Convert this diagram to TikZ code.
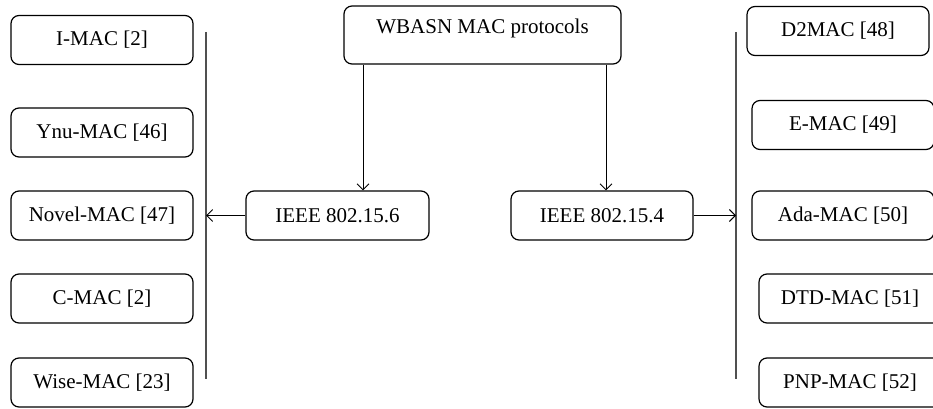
\documentclass[tikz,border=0pt]{standalone}
\usepackage{fontspec}
\setmainfont{Liberation Serif}
\usepackage{xcolor}
\usepackage{tikz}
\usetikzlibrary{arrows.meta, positioning}
\definecolor{linegray}{HTML}{505050}
\tikzset{
    protobox/.style={rectangle, rounded corners=8pt, draw, line width=1.2pt, minimum width=182pt, minimum height=49pt, inner sep=0pt, font=\fontsize{21}{25}\selectfont},
    rootbox/.style={protobox, minimum width=277pt, minimum height=58pt, text depth=16pt, text height=14pt},
    arrow/.style={-{Straight Barb[length=6pt, width=12pt]}, line width=0.9pt},
    rail/.style={draw=linegray, line width=1.9pt}
}

\begin{document}
\begin{tikzpicture}[x=1pt, y=-1pt]
            \useasboundingbox (0,0) rectangle (933,409);
            \clip (0,0) rectangle (933,409);
            % top and middle row
            \node (root) [rootbox] at (482.5,35) {WBASN MAC protocols};
            \node (sixstd) [protobox, minimum width=183pt] at (337.5,215.5) {IEEE 802.15.6};
            \node (fourstd) [protobox] at (602,215.5) {IEEE 802.15.4};
            % left column
            \node (imac) [protobox] at (102,40) {I-MAC [2]};
            \node (ynumac) [protobox] at (102,132.5) {Ynu-MAC [46]};
            \node (novelmac) [protobox] at (102,215.5) {Novel-MAC [47]};
            \node (cmac) [protobox] at (102,298.5) {C-MAC [2]};
            \node (wisemac) [protobox] at (102,382.5) {Wise-MAC [23]};
            % right column
            \node (dtwomac) [protobox] at (838,31) {D2MAC [48]};
            \node (emac) [protobox] at (843,125) {E-MAC [49]};
            \node (adamac) [protobox] at (843,215.5) {Ada-MAC [50]};
            \node (dtdmac) [protobox] at (850,298.5) {DTD-MAC [51]};
            \node (pnpmac) [protobox] at (850,382.5) {PNP-MAC [52]};

            \coordinate (lefttop) at (206,32);
            \coordinate (leftbot) at (206,379);
            \coordinate (righttop) at (736,32);
            \coordinate (rightbot) at (736,379);
            \draw[rail] (lefttop) -- (leftbot);
            \draw[rail] (righttop) -- (rightbot);

            \draw[arrow] ([xshift=25.5pt]sixstd.north |- root.south) -- ([xshift=25.5pt]sixstd.north);
            \draw[arrow] ([xshift=4pt]fourstd.north |- root.south) -- ([xshift=4pt]fourstd.north);
            \draw[arrow] (sixstd.west) -- (sixstd.west -| lefttop);
            \draw[arrow] (fourstd.east) -- (fourstd.east -| righttop);
        \end{tikzpicture}
\end{document}
